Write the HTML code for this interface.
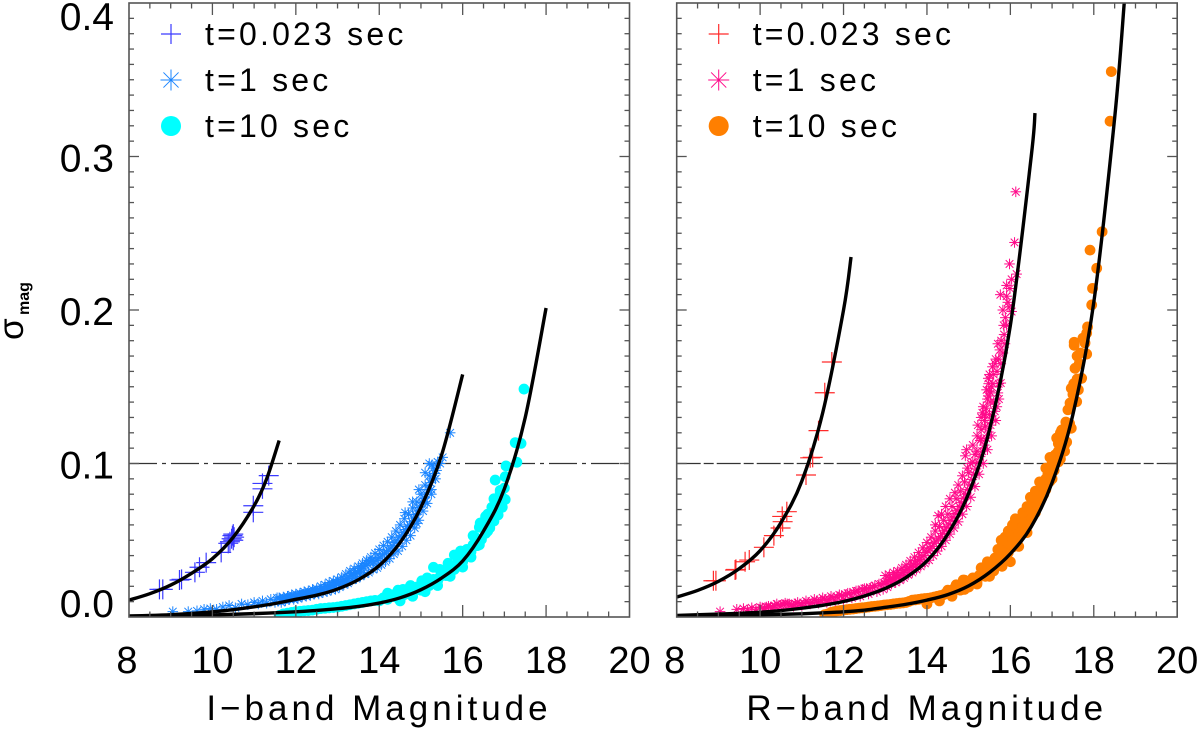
<!DOCTYPE html>
<html lang="en">
<head>
<meta charset="utf-8">
<title>Photometric precision vs magnitude</title>
<style>
html,body{margin:0;padding:0;background:#fff;width:1200px;height:734px;overflow:hidden}
svg{display:block}
text{font-family:"Liberation Sans",sans-serif;fill:#000}
</style>
</head>
<body>
<svg id="chart" xmlns="http://www.w3.org/2000/svg" width="1200" height="734" viewBox="0 0 1200 734">
<defs>
<clipPath id="clip-left"><rect x="129" y="3" width="500.5" height="614"/></clipPath>
<clipPath id="clip-right"><rect x="676.7" y="3" width="500.5" height="614"/></clipPath>
</defs>
<g id="left-panel"></g>
<g id="right-panel"></g>
<text transform="translate(23,340) rotate(-90)" font-size="35">σ</text>
<text transform="translate(29,315) rotate(-90)" font-size="16" font-weight="bold">mag</text>
</svg>
<script>
const xTicks = [8, 10, 12, 14, 16, 18, 20];
const yTicks = [0, 0.1, 0.2, 0.3, 0.4];
const yTickLabels = ["0.0", "0.1", "0.2", "0.3", "0.4"];
const referenceLevel = 0.1;
const legendLabels = ["t=0.023 sec", "t=1 sec", "t=10 sec"];

const iShortX = [8.73,8.81,9.21,9.26,9.58,9.69,9.85,10.21,10.38,10.42,10.46,10.48,10.5,10.5,10.52,10.98,10.98,11.2,11.2,11.35];
const iShortY = [.018,.018,.0241,.0245,.0291,.0324,.0354,.0421,.048,.049,.051,.053,.054,.05,.052,.0725,.0682,.087,.0835,.0921];

const iMidX = [9.05,9.42,9.63,9.8,9.95,10.1,10.25,10.4,10.55,10.7,10.85,11,11.1,11.2,11.3,11.4,11.5,11.55,
11.6,11.65,11.7,11.75,11.8,11.85,11.9,11.95,12,12.05,12.1,12.15,12.2,12.25,12.3,12.35,12.4,12.45,12.5,12.55,12.6,12.65,12.7,12.75,12.8,12.85,12.9,12.95,
13,13.05,13.1,13.15,13.2,13.25,13.3,13.35,13.4,13.45,13.5,13.55,13.6,13.65,13.7,13.75,13.8,13.85,13.9,13.95,
14,14.05,14.1,14.15,14.2,14.25,14.3,14.35,14.4,14.45,14.5,14.55,14.6,14.65,14.7,14.75,14.8,14.85,14.9,14.95,
15,15.05,15.1,15.15,15.2,15.25,15.26,15.3,15.35,15.4,15.46,15.52,15.7];
const iMidY = [.0035,.0035,.004,.005,.0055,.005,.0065,.0075,.006,.0085,.008,.0095,.0085,.0105,.009,.0115,.0095,.0125,
.0125,.0095,.013,.0105,.0135,.0115,.0145,.0115,.015,.012,.0155,.013,.0165,.0135,.017,.014,.018,.015,.0185,.015,.02,.016,.021,.0165,.0225,.0175,.0235,.018,
.0245,.0195,.026,.021,.028,.022,.03,.024,.0315,.025,.033,.0265,.035,.028,.037,.029,.039,.031,.0415,.032,
.044,.034,.0465,.036,.049,.038,.052,.041,.056,.043,.06,.046,.064,.05,.067,.053,.071,.058,.075,.063,
.08,.069,.086,.074,.092,.083,.099,.097,.09,.101,.1,.104,.12];
const iMidFillX = [11.625,11.675,11.725,11.775,11.825,11.875,11.925,11.975,12.025,12.075,12.125,12.175,12.225,12.275,12.325,12.375,12.425,12.475,12.525,12.575,12.625,12.675,12.725,12.775,12.825,12.875,12.925,12.975,13.025,13.075,13.125,13.175,13.225,13.275,13.325,13.375,13.425,13.475,13.525,13.575,13.625,13.675,13.725,13.775,13.825,13.875,13.925,13.975,14.025,14.075,14.125,14.175,14.225,14.275,14.325,14.375,14.425,14.475,14.525,14.575,14.625,14.675,14.725,14.775,14.825,14.875,14.925,14.975,15.025,15.075,15.125,15.175,15.225,15.275,15.325,15.375,
14.62,14.8,14.95,15.1,15.2,14.9,15.1,15.25];
const iMidFillY = [.0112,.0115,.0118,.012,.0125,.0128,.013,.0132,.0135,.0138,.0142,.0148,.015,.0152,.0155,.016,.0165,.0168,.017,.0175,.018,.0185,.019,.0195,.02,.0205,.021,.0215,.022,.0228,.0235,.0245,.025,.026,.027,.028,.0285,.029,.03,.0315,.0325,.0335,.0345,.036,.0365,.036,.0368,.038,.039,.0405,.0412,.0425,.0435,.045,.0465,.0485,.05,.052,.053,.055,.057,.059,.06,.062,.0645,.0665,.069,.0715,.0745,.0775,.08,.083,.0875,.09,.0935,.0955,
.068,.075,.083,.094,.1,.061,.075,.08];

const iLongX = [11.6,11.8,12,12.2,12.4,12.6,12.8,13,13.2,13.4,13.6,13.8,
14,14.1,14.2,14.3,14.4,14.5,14.57,14.6,14.7,14.8,14.9,15,15.02,15.1,15.2,15.3,15.3,15.4,15.5,15.6,15.65,15.7,15.8,15.8,15.9,
16,16.1,16.2,16.3,16.35,16.4,16.42,16.45,16.5,16.55,16.6,16.65,16.7,16.75,16.78,16.8,16.85,16.9,16.95,
17,17.02,17.02,17.04,17.26,17.3,17.4,17.47];
const iLongY = [.001,.0025,.0035,.004,.0045,.0055,.006,.0065,.0075,.0085,.0095,.0105,
.0105,.0125,.0115,.0145,.013,.0165,.018,.0145,.0185,.016,.0195,.0175,.0236,.0215,.0205,.0245,.0324,.0235,.0285,.027,.035,.0335,.031,.0404,.038,
.036,.044,.0425,.052,.0465,.0585,.0612,.0505,.062,.0545,.067,.058,.0715,.0625,.0892,.077,.0665,.081,.0715,
.084,.0765,.0914,.0984,.1136,.1008,.1131,.1485];
const iLongFillX = [11.7,11.9,12.1,12.3,12.5,12.7,12.9,13.1,13.3,13.5,13.7,13.9,14.05,14.15,14.25,14.35,14.45,14.55,14.65,14.75,14.85,14.95,15.05,15.15,15.25,15.35,15.45,15.55,15.65,15.75,15.85,15.95,16.05,16.15,16.25,
14.5,14.8,15.1,15.4,15.7,16,16.2,16.4,16.6,16.8,16.95,
14.2,14.45,14.75,15.15,15.45,15.95,16.25,16.55,16.75,16.9];
const iLongFillY = [.002,.003,.0037,.0042,.005,.0057,.0062,.007,.008,.009,.01,.0108,.0115,.012,.013,.0135,.0145,.0155,.0165,.0175,.018,.0185,.0195,.021,.0225,.024,.026,.0278,.03,.032,.0345,.037,.04,.043,.047,
.0105,.0135,.0165,.0205,.0265,.0325,.039,.047,.056,.068,.078,
.0155,.0175,.0205,.0255,.031,.043,.053,.0655,.077,.0825];

const rShortX = [8.88,8.94,9.4,9.42,9.64,9.74,10.09,10.33,10.49,10.54,10.53,10.64,11.1,11.2,11.26,11.4,11.55,11.72];
const rShortY = [.0236,.0236,.0306,.031,.036,.0371,.0454,.053,.058,.0621,.0655,.0686,.0925,.1037,.104,.1214,.1461,.1661];

const rMidX = [9.04,9.44,9.6,9.7,9.8,9.9,10,10.1,10.2,10.3,10.4,10.5,10.6,10.7,10.8,10.9,11,11.1,11.2,11.3,11.4,11.5,11.6,11.7,11.8,11.9,
12,12.1,12.2,12.3,12.4,12.5,12.6,12.7,12.8,12.9,12.95,
13,13.05,13.1,13.15,13.2,13.25,13.3,13.35,13.4,13.45,13.5,13.55,13.6,13.65,13.7,13.75,13.8,13.85,13.9,13.95,
14,14.05,14.1,14.15,14.2,14.25,14.3,14.35,14.4,14.45,14.5,14.55,14.6,14.65,14.7,14.75,14.8,14.85,14.9,14.95,14.95,
15,15.05,15.1,15.15,15.2,15.25,15.3,15.35,15.4,15.45,15.47,15.5,15.55,15.57,15.6,15.65,15.7,15.75,15.77,15.77,
15.76,15.91,15.91,15.91,15.97,15.98,15.99,16.03,16.03,16.1,16.13,16.15];
const rMidY = [.0035,.005,.0055,.0045,.006,.005,.0065,.0055,.007,.006,.0085,.0075,.009,.0085,.007,.0095,.0075,.0105,.0085,.0115,.009,.0125,.0095,.0135,.0105,.0145,
.0115,.0155,.0125,.017,.0135,.0185,.015,.0195,.0165,.0215,.018,
.027,.0195,.0275,.0215,.029,.0225,.03,.024,.032,.0255,.034,.0275,.0365,.029,.039,.031,.042,.033,.045,.035,
.0485,.037,.052,.04,.056,.043,.059,.046,.063,.05,.067,.054,.072,.058,.077,.062,.082,.067,.088,.072,.109,
.094,.078,.101,.085,.108,.093,.116,.1,.124,.109,.1555,.132,.118,.163,.14,.128,.146,.174,.1524,.165,
.21,.216,.209,.19,.202,.23,.214,.22,.199,.244,.277,.2234];
const rMidFillX = [10.05,10.15,10.25,10.35,10.45,10.55,10.65,10.75,10.85,10.95,11.05,11.15,11.25,11.35,11.45,11.55,11.65,11.75,11.85,11.95,12.05,12.15,12.25,12.35,12.45,12.55,12.65,12.75,12.85,
12.975,13.025,13.075,13.125,13.175,13.225,13.275,13.325,13.375,13.425,13.475,13.525,13.575,13.625,13.675,13.725,13.775,13.825,13.875,13.925,13.975,
14.025,14.075,14.125,14.175,14.225,14.275,14.325,14.375,14.425,14.475,14.525,14.575,14.625,14.675,14.725,14.775,14.825,14.875,14.925,14.975,
15.025,15.075,15.125,15.175,15.225,15.275,15.325,15.375,15.425,15.475,15.525,15.575,15.625,15.675,15.725,
15.3,15.33,15.38,15.42,15.45,15.5,15.52,15.55,15.48,15.6,15.65,15.7,15.72,15.82,15.85,15.88,
15.05,15.1,15.15,15.2,15.22,15.28,15.3,15.35,15.4,15.43,15.47,15.5,15.53,15.58,15.63,15.68,15.72,15.78,15.84,15.87,15.94,15.82,
14.2,14.27,14.35,14.45,14.55,14.67,14.75,14.85,14.92,14.97];
const rMidFillY = [.006,.0065,.0065,.0075,.0075,.008,.0085,.008,.0085,.0085,.009,.0095,.0095,.0105,.0105,.0115,.0115,.0125,.013,.014,.0145,.0155,.016,.017,.018,.0185,.019,.0205,.0215,
.022,.023,.0235,.0245,.025,.0258,.0262,.027,.028,.029,.03,.031,.032,.0328,.034,.035,.0365,.0375,.039,.04,.042,
.043,.0445,.046,.048,.0495,.051,.0525,.0545,.0565,.0585,.0605,.063,.065,.0675,.0695,.072,.0745,.0775,.08,.083,
.086,.0895,.093,.0965,.1005,.1045,.108,.112,.1165,.1205,.125,.129,.134,.137,.142,
.122,.133,.128,.136,.142,.147,.14,.15,.152,.158,.168,.178,.168,.172,.184,.195,
.1,.112,.106,.118,.125,.115,.13,.137,.132,.148,.144,.158,.146,.152,.165,.16,.152,.18,.19,.178,.205,.2,
.06,.066,.067,.072,.077,.081,.086,.092,.105,.097];

const rLongX = [11.55,11.7,11.85,12,12.15,12.3,12.45,12.6,12.75,12.9,13.05,13.2,13.35,13.5,13.65,13.8,13.95,
14.1,14.25,14.4,14.5,14.6,14.7,14.8,14.87,14.9,15,15.1,15.2,15.3,15.31,15.4,15.5,15.6,15.63,15.7,15.75,15.8,15.85,15.87,15.9,15.95,
16,16.05,16.1,16.15,16.2,16.23,16.25,16.3,16.35,16.4,16.45,16.5,16.53,16.55,16.6,16.65,16.7,16.75,16.78,16.8,16.85,16.9,16.95,
17,17.05,17.07,17.1,17.11,17.15,17.15,17.2,17.23,17.25,17.3,17.35,17.43,17.45,17.46,17.46,17.53,17.53,17.55,17.59,17.71,17.74,17.79,17.83,17.83,17.85,17.91,17.95,17.97,18.07,18.2,18.39,18.42];
const rLongY = [.0015,.003,.004,.0045,.005,.0055,.006,.0065,.007,.0075,.008,.0085,.009,.0095,.011,.0115,.012,
.0125,.0135,.0145,.0175,.015,.021,.0175,.0241,.024,.0195,.0255,.023,.032,.0321,.0265,.0335,.03,.0384,.0395,.0345,.046,.038,.052,.052,.042,
.053,.0455,.056,.0495,.062,.0632,.054,.062,.058,.066,.0615,.071,.0762,.0665,.0745,.0725,.08,.0775,.0873,.0875,.083,.093,.0885,
.1,.0955,.1055,.106,.1166,.101,.113,.12,.1218,.122,.108,.114,.1394,.123,.123,.149,.177,.179,.162,.1403,.1555,.1817,.1785,.1713,.185,.189,.239,.2033,.2141,.2272,.251,.323,.3553];
const rLongFillX = [11.625,11.775,11.925,12.075,12.225,12.375,12.525,12.675,12.825,12.975,13.125,13.275,13.425,13.575,13.725,13.875,14.025,14.175,14.325,
14.45,14.55,14.65,14.75,14.85,14.95,15.05,15.15,15.25,15.35,15.45,15.55,15.65,15.75,15.85,15.95,16.05,16.15,16.25,16.35,16.45,16.55,16.65,16.75,16.85,16.95,17.05,17.15,
17.2,17.28,17.33,17.38,17.42,17.5,17.52,17.6,17.63,17.65,17.68,17.6,
15.45,15.7,15.78,15.95,16.05,16.12,16.3,16.4,16.48,16.6,16.7,16.85,16.95,
16,16.2,16.4,16.6,16.8,17,17.2,17.3,
14,14.3,14.6,14.9,15.2,15.5,15.8];
const rLongFillY = [.002,.0035,.0042,.0048,.0052,.0058,.0062,.0068,.0072,.0078,.0082,.0088,.0092,.0102,.0112,.0118,.0122,.013,.014,
.0155,.0165,.0185,.0195,.0215,.022,.0235,.0245,.027,.029,.0305,.033,.036,.04,.0445,.048,.05,.054,.058,.0625,.0665,.0715,.0775,.084,.09,.096,.102,.108,
.113,.118,.127,.135,.126,.145,.152,.155,.148,.165,.172,.17,
.036,.044,.05,.056,.06,.064,.068,.072,.078,.082,.088,.097,.104,
.036,.046,.055,.068,.08,.09,.103,.112,
.0085,.0105,.0135,.018,.0215,.0265,.033];

const iShortFitX = [8,8.5,9,9.5,10,10.5,11,11.3,11.6];
const iShortFitY = [.011,.0152,.0208,.0285,.038,.052,.0725,.09,.115];
const iMidFitX = [8,8.5,9,9.5,10,10.5,11,11.5,12,12.5,13,13.5,14,14.5,15,15.5,16];
const iMidFitY = [.0007,.001,.0015,.0023,.0034,.0048,.0066,.0088,.0115,.0142,.0182,.0243,.0335,.0485,.0715,.106,.158];
const iLongFitX = [8,9,10,11,12,12.5,13,13.5,14,14.5,15,15.5,16,16.5,17,17.5,18];
const iLongFitY = [.0005,.0008,.0013,.0022,.0034,.0043,.0054,.0069,.0091,.0125,.0178,.0255,.0365,.056,.0835,.13,.2013];

const rShortFitX = [8,8.5,9,9.5,10,10.5,11,11.5,12,12.18];
const rShortFitY = [.013,.0173,.0232,.0315,.0432,.0615,.0885,.133,.2,.2345];
const rMidFitX = [8,9,9.5,10,10.5,11,11.5,12,12.5,13,13.5,14,14.5,15,15.5,16,16.5,16.59];
const rMidFitY = [.001,.0019,.0024,.0031,.0042,.0057,.0076,.0101,.0137,.0186,.0258,.0365,.054,.0805,.122,.19,.3,.3283];
const rLongFitX = [8,9,10,11,11.5,12,12.5,13,13.5,14,14.5,15,15.5,16,16.5,17,17.5,18,18.5,18.73];
const rLongFitY = [.0005,.0009,.0014,.0021,.0027,.0034,.0044,.0063,.0083,.011,.0146,.0203,.029,.0412,.0588,.0875,.132,.205,.325,.4];

const NS = "http://www.w3.org/2000/svg";
const PLOT_TOP = 3, PLOT_BOTTOM = 617, PLOT_WIDTH = 500.5;
const AXIS_COLOR = "#555";
function yScale(v) { return PLOT_BOTTOM - (v / 0.4) * (PLOT_BOTTOM - PLOT_TOP); }
function xScaleFor(x0) { return function (v) { return x0 + ((v - 8) / 12) * PLOT_WIDTH; }; }
function make(tag, parent, attrs) {
  const el = document.createElementNS(NS, tag);
  for (const k in attrs) el.setAttribute(k, attrs[k]);
  parent.appendChild(el);
  return el;
}
function segment(parent, x1, y1, x2, y2, color, width) {
  return make("line", parent, { x1: x1, y1: y1, x2: x2, y2: y2, stroke: color, "stroke-width": width });
}
function drawPlus(parent, cx, cy, r, color) {
  const g = make("g", parent, {});
  
  
  segment(g, cx - r, cy, cx + r, cy, color, 1.2);
  segment(g, cx, cy - r, cx, cy + r, color, 1.2);
}
function drawStar(parent, cx, cy, r, color) {
  const g = make("g", parent, {});
  
  
  const d = r * 0.72;
  segment(g, cx - r, cy, cx + r, cy, color, 1);
  segment(g, cx, cy - r, cx, cy + r, color, 1);
  segment(g, cx - d, cy - d, cx + d, cy + d, color, 1);
  segment(g, cx - d, cy + d, cx + d, cy - d, color, 1);
}
function drawDot(parent, cx, cy, r, color) {
  const c = make("circle", parent, { cx: cx, cy: cy, r: r, fill: color });
  
  
}
function drawFit(parent, xs, ys, sx) {
  const pts = xs.map(function (v, i) { return [sx(v), yScale(ys[i])]; });
  let d = "M" + pts[0][0] + " " + pts[0][1];
  for (let i = 0; i < pts.length - 1; i++) {
    const p0 = pts[Math.max(0, i - 1)], p1 = pts[i], p2 = pts[i + 1], p3 = pts[Math.min(pts.length - 1, i + 2)];
    const c1x = p1[0] + (p2[0] - p0[0]) / 6, c1y = p1[1] + (p2[1] - p0[1]) / 6;
    const c2x = p2[0] - (p3[0] - p1[0]) / 6, c2y = p2[1] - (p3[1] - p1[1]) / 6;
    d += "C" + c1x + " " + c1y + " " + c2x + " " + c2y + " " + p2[0] + " " + p2[1];
  }
  const path = make("path", parent, { d: d, fill: "none", stroke: "#000", "stroke-width": 3.4 });
  
  
}
function drawSeries(parent, xs, ys, sx, fn, r, color, name) {
  const g = make("g", parent, {});
  
  
  xs.forEach(function (v, i) { fn(g, sx(v), yScale(ys[i]), r, color); });
}
function drawAxes(panel, x0, sx, showYLabels, xLabelText) {
  const x1 = x0 + PLOT_WIDTH;
  const frame = make("rect", panel, { x: x0, y: PLOT_TOP, width: PLOT_WIDTH, height: PLOT_BOTTOM - PLOT_TOP, fill: "none", stroke: AXIS_COLOR, "stroke-width": 1.6 });
  
  
  const ticks = make("g", panel, {});
  
  
  for (let i = 1; i < 24; i++) {
    const v = 8 + i * 0.5, len = (i % 4 === 0) ? 12 : 5.5;
    segment(ticks, sx(v), PLOT_BOTTOM, sx(v), PLOT_BOTTOM - len, AXIS_COLOR, 1.3);
    segment(ticks, sx(v), PLOT_TOP, sx(v), PLOT_TOP + len, AXIS_COLOR, 1.3);
  }
  for (let i = 1; i < 40; i++) {
    const y = yScale(i * 0.01), len = (i % 10 === 0) ? 10 : 5;
    segment(ticks, x0, y, x0 + len, y, AXIS_COLOR, 1.3);
    segment(ticks, x1, y, x1 - len, y, AXIS_COLOR, 1.3);
  }
  xTicks.forEach(function (v) {
    const t = make("text", panel, { x: sx(v) + (v === 8 ? -2 : 0), y: 673, "font-size": 38, "text-anchor": "middle" });
    
    
    t.textContent = String(v);
  });
  if (showYLabels) {
    yTicks.forEach(function (v, i) {
      const base = Math.min(Math.max(yScale(v) + 15, 30), 617);
      const t = make("text", panel, { x: 114, y: base, "font-size": 39, "text-anchor": "end" });
      
      
      t.textContent = yTickLabels[i];
    });
  }
  const title = make("text", panel, { x: x0 + 250, y: 720, "font-size": 35, "text-anchor": "middle", "letter-spacing": 4 });
  
  
  title.textContent = xLabelText;
}
function drawLegend(panel, x0, colors) {
  const rows = [34, 80, 126];
  const baselines = [45, 91, 137];
  const g = make("g", panel, {});
  
  
  drawPlus(g, x0 + 42, rows[0], 10, colors[0]);
  drawStar(g, x0 + 42, rows[1], 10.5, colors[1]);
  drawDot(g, x0 + 42, rows[2], 10, colors[2]);
  legendLabels.forEach(function (label, i) {
    const t = make("text", g, { x: x0 + 76, y: baselines[i], "font-size": 32, "letter-spacing": 3.2 });
    
    
    t.textContent = label;
  });
}
function drawPanel(panel, x0, clipId, d) {
  const sx = xScaleFor(x0);
  const marks = make("g", panel, { "clip-path": "url(#" + clipId + ")" });
  
  
  const ref = make("line", marks, { x1: x0, x2: x0 + PLOT_WIDTH, y1: yScale(referenceLevel), y2: yScale(referenceLevel), stroke: "#333", "stroke-width": 1.3, "stroke-dasharray": d.dash });
  
  
  drawSeries(marks, d.longX, d.longY, sx, drawDot, 5.4, d.colors[2], 't10-series');
  drawSeries(marks, d.longFillX, d.longFillY, sx, drawDot, 5.4, d.colors[2], 't10-series-dense');
  drawSeries(marks, d.midX, d.midY, sx, drawStar, 5.3, d.colors[1], 't1-series');
  drawSeries(marks, d.midFillX, d.midFillY, sx, drawStar, 5.3, d.colors[1], 't1-series-dense');
  drawSeries(marks, d.shortX, d.shortY, sx, drawPlus, 10, d.colors[0], 't0023-series');
  drawFit(marks, d.midFitX, d.midFitY, sx);
  drawFit(marks, d.longFitX, d.longFitY, sx);
  drawFit(marks, d.shortFitX, d.shortFitY, sx);
  drawAxes(panel, x0, sx, d.showY, d.title);
  drawLegend(panel, x0, d.colors);
}
drawPanel(document.getElementById("left-panel"), 129, "clip-left", {
  shortX: iShortX, shortY: iShortY, midX: iMidX, midY: iMidY, longX: iLongX, longY: iLongY,
  midFillX: iMidFillX, midFillY: iMidFillY, longFillX: iLongFillX, longFillY: iLongFillY,
  shortFitX: iShortFitX, shortFitY: iShortFitY, midFitX: iMidFitX, midFitY: iMidFitY, longFitX: iLongFitX, longFitY: iLongFitY,
  colors: ["#3a3aff", "#1a85ff", "#00ffff"], dash: "28 5 4 5", showY: true, title: "I\u2212band Magnitude"
});
drawPanel(document.getElementById("right-panel"), 676.7, "clip-right", {
  shortX: rShortX, shortY: rShortY, midX: rMidX, midY: rMidY, longX: rLongX, longY: rLongY,
  midFillX: rMidFillX, midFillY: rMidFillY, longFillX: rLongFillX, longFillY: rLongFillY,
  shortFitX: rShortFitX, shortFitY: rShortFitY, midFitX: rMidFitX, midFitY: rMidFitY, longFitX: rLongFitX, longFitY: rLongFitY,
  colors: ["#ff2a2a", "#ff0a8a", "#ff7f00"], dash: "24 3 10 3", showY: false, title: "R\u2212band Magnitude"
});
</script>
</body>
</html>
